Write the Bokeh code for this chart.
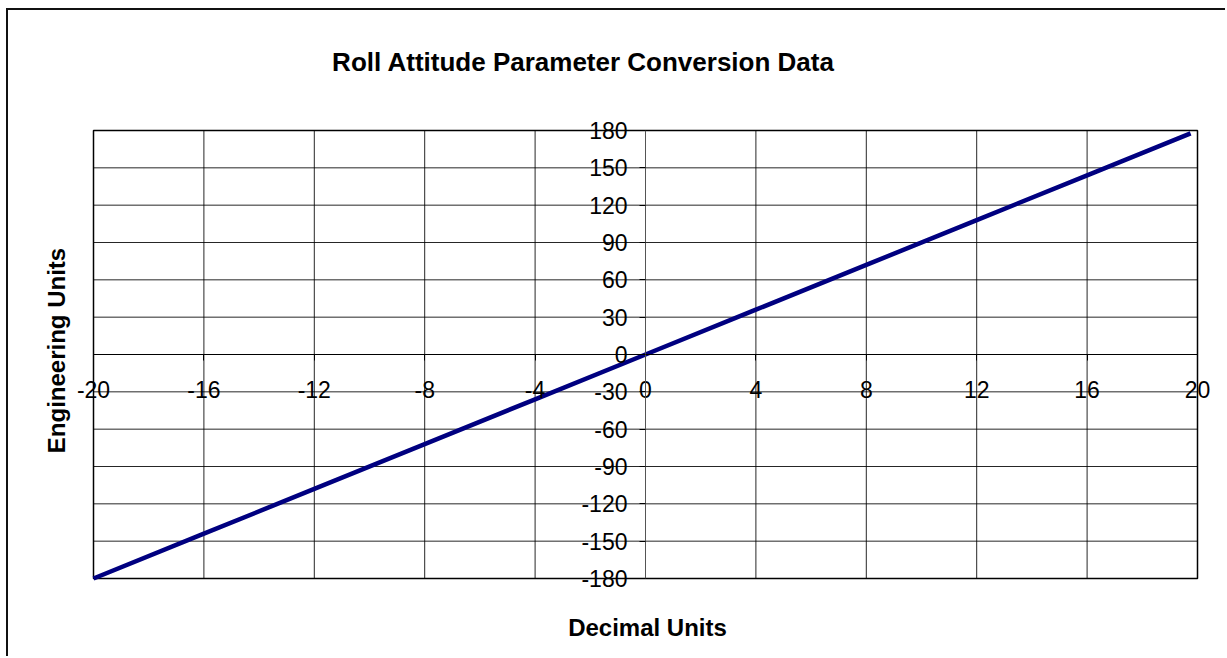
from bokeh.plotting import figure
from bokeh.models import FixedTicker, Label, Range1d, CustomJSTickFormatter
from bokeh.embed import file_html
from bokeh.resources import INLINE
import math

# ---- data ----
decimal_units = [-20, -16, -12, -8, -4, 0, 4, 8, 12, 16, 19.75]
engineering_units = [-180, -144, -108, -72, -36, 0, 36, 72, 108, 144, 177.75]
x_ticks = [-20, -16, -12, -8, -4, 0, 4, 8, 12, 16, 20]
y_ticks = [-180, -150, -120, -90, -60, -30, 0, 30, 60, 90, 120, 150, 180]
title_text = "Roll Attitude Parameter Conversion Data"
x_title = "Decimal Units"
y_title = "Engineering Units"

FONT = "Liberation Sans"

# ---- layout (page pixels) ----
OX, OY = 8, 10            # canvas origin on the page (margin + border)
W, H = 1219, 648           # canvas size
PL, PR, PT, PB = 93, 1197, 130, 578   # plot-area box on the page

xmin, xmax = x_ticks[0], x_ticks[-1]
ymin, ymax = y_ticks[0], y_ticks[-1]
sx = (PR - PL) / (xmax - xmin)
sy = (PB - PT) / (ymax - ymin)
x_start = xmin - (PL - OX) / sx
x_end = xmax + (OX + W - PR) / sx
y_end = ymax + (PT - OY) / sy
y_start = ymin - (OY + H - PB) / sy

def dx(px):
    return xmin + (px - PL) / sx
def dy(py):
    return ymax - (py - PT) / sy

p = figure(width=W, height=H, output_backend="svg", toolbar_location=None,
           x_range=Range1d(x_start, x_end), y_range=Range1d(y_start, y_end),
           min_border=0, min_border_left=0, min_border_right=0,
           min_border_top=0, min_border_bottom=0)
p.styles = {"margin-left": "6px", "margin-top": "8px",
            "border-left": "2px solid #111", "border-top": "2px solid #111"}
p.background_fill_color = "white"
p.border_fill_color = "white"
p.outline_line_color = None
p.grid.visible = False

# gridlines of the plot area
p.segment(x0=x_ticks, y0=[ymin] * len(x_ticks), x1=x_ticks, y1=[ymax] * len(x_ticks),
          line_color="black", line_alpha=0.85, line_width=1)
p.segment(x0=[xmin] * len(y_ticks), y0=y_ticks, x1=[xmax] * len(y_ticks), y1=y_ticks,
          line_color="black", line_alpha=0.85, line_width=1)
# plot-area border
p.quad(left=[xmin], right=[xmax], bottom=[ymin], top=[ymax],
       fill_color=None, line_color="black", line_width=1.5)

xt = FixedTicker(ticks=x_ticks)
yt = FixedTicker(ticks=y_ticks)
p.xaxis.ticker = xt
p.yaxis.ticker = yt
fmt = CustomJSTickFormatter(code="return String(tick);")
for ax in (p.xaxis, p.yaxis):
    ax.fixed_location = 0
    ax.formatter = fmt
    ax.major_tick_out = 6
    ax.major_tick_in = 0
    ax.minor_tick_out = 0
    ax.minor_tick_in = 0
    ax.major_tick_line_color = "black"
    ax.major_label_text_font = FONT
    ax.major_label_text_font_size = "23px"
    ax.major_label_text_color = "black"
p.xaxis.bounds = (xmin, xmax)
p.yaxis.bounds = (ymin, ymax)
p.xaxis.axis_line_color = "black"
p.yaxis.axis_line_color = "#555555"
p.xaxis.major_label_standoff = 20
p.yaxis.major_label_standoff = 12

p.line(decimal_units, engineering_units, line_color="#000080", line_width=4.5)

p.add_layout(Label(x=dx(583), y=dy(61), text=title_text, text_font=FONT,
                   text_font_size="26px", text_font_style="bold",
                   text_align="center", text_baseline="alphabetic", text_color="black"))
p.add_layout(Label(x=dx(647), y=dy(627), text=x_title, text_font=FONT,
                   text_font_size="24px", text_font_style="bold",
                   text_align="center", text_baseline="alphabetic", text_color="black"))
p.add_layout(Label(x=dx(56), y=dy(350), text=y_title, text_font=FONT,
                   text_font_size="24px", text_font_style="bold", angle=math.pi / 2,
                   text_align="center", text_baseline="alphabetic", text_color="black"))

open("out.html", "w").write(file_html(p, INLINE))
